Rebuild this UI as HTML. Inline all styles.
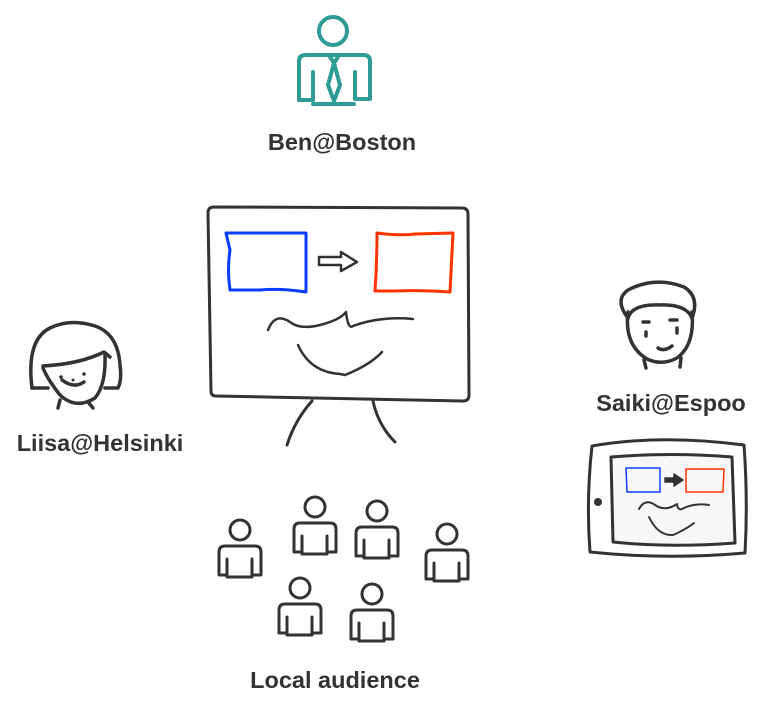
<!DOCTYPE html>
<html><head><meta charset="utf-8"><style>
html,body{margin:0;padding:0;background:#fff;}
svg{display:block;}
text{font-family:"Liberation Sans",Arial,sans-serif;font-weight:bold;font-size:23.5px;fill:#333;}
</style></head><body>
<svg width="767" height="715" viewBox="0 0 767 715" xmlns="http://www.w3.org/2000/svg">
<defs>
<g id="p" fill="none" stroke="#333" stroke-width="3" stroke-linejoin="round" stroke-linecap="round">
<circle cx="0" cy="0" r="10"/>
<path d="M-13,29 V47 H12 V29"/>
<path d="M-13,45 H-21 V22 Q-21,16 -15,16 H15 Q21,16 21,22 V45 H12"/>
</g>
</defs>

<!-- Ben -->
<g fill="none" stroke="#2f9b96" stroke-width="4" stroke-linejoin="round" stroke-linecap="round">
<circle cx="333" cy="31" r="14"/>
<path d="M299,100 V61 Q299,55 306,55 H363 Q370,55 370,61 V99 H355"/>
<path d="M299,100 H313 V72 M355,99 V72"/>
<path d="M313,104 H354"/>
<path d="M330,57 L334,63 L338,57 M334,63 L328,85 L334,101 L340,85 L334,63"/>
</g>
<text x="342" y="150" text-anchor="middle">Ben@Boston</text>

<!-- Whiteboard -->
<g fill="none" stroke-linecap="round" stroke-linejoin="round">
<path d="M214,207 L462,208 Q468,208 468,214 L469,395 Q469,401 463,401 L216,396 Q211,396 211,391 L208,213 Q208,207 214,207 Z" stroke="#333" stroke-width="3"/>
<path d="M226,233 L306,233 L306,292 Q280,288 260,290 L230,290 Q227,270 230,250 Z" stroke="#0a3cff" stroke-width="3"/>
<path d="M377,233 Q400,236 415,234 L453,233 L450,292 Q420,290 395,291 L375,291 Q377,262 377,233 Z" stroke="#ff3300" stroke-width="3"/>
<path d="M319,257 H341 V252 L357,262 L341,271 V265 H319 Z" stroke="#333" stroke-width="2.5"/>
<path d="M268,330 Q275,312 290,322 Q300,330 320,325 Q340,320 346,312 Q348,330 353,326 Q380,316 413,319" stroke="#333" stroke-width="2.5"/>
<path d="M298,345 Q310,372 340,374 L345,375 Q370,365 382,352" stroke="#333" stroke-width="2.5"/>
<path d="M312,401 Q295,420 287,445 M373,401 Q378,425 395,442" stroke="#333" stroke-width="3"/>
</g>

<!-- Liisa -->
<g fill="none" stroke="#333" stroke-width="3.5" stroke-linecap="round" stroke-linejoin="round">
<path d="M32,388 Q26,340 50,328 Q70,318 95,326 Q118,334 120,365 Q122,380 118,388 L105,388"/>
<path d="M32,388 L48,388"/>
<path d="M43,368 Q48,380 60,395 Q76,410 95,398 Q106,385 105,355"/>
<path d="M43,366 Q80,364 104,352 L110,357"/>
<path d="M60,400 L58,408 M88,402 L93,408"/>
<path d="M62,380 Q74,389 84,382"/>
</g>
<circle cx="61" cy="377" r="1.8" fill="#333"/><circle cx="84" cy="374" r="1.8" fill="#333"/><circle cx="73" cy="380" r="1.5" fill="#333"/>
<text x="100" y="451" text-anchor="middle">Liisa@Helsinki</text>

<!-- Saiki -->
<g fill="none" stroke="#333" stroke-width="3.5" stroke-linecap="round" stroke-linejoin="round">
<path d="M628,318 Q614,300 628,290 Q655,276 684,287 Q700,297 692,318"/>
<path d="M628,318 Q632,304 660,305 Q686,304 692,318"/>
<path d="M628,312 Q624,345 647,359 Q662,366 677,358 Q695,345 692,312"/>
<path d="M644,360 L646,368 M681,358 L680,367"/>
<path d="M643,322 H649 M670,320 H677"/>
<path d="M646,332 V336 M677,328 V333"/>
<path d="M658,348 Q664,352 672,346"/>
</g>
<text x="671" y="411" text-anchor="middle">Saiki@Espoo</text>

<!-- Tablet -->
<g fill="none" stroke-linecap="round" stroke-linejoin="round">
<path d="M592,446 Q660,434 744,445 Q748,500 745,553 Q665,560 590,552 Q586,500 592,446 Z" stroke="#333" stroke-width="3"/>
<path d="M611,457 Q670,452 732,457 L735,543 Q670,548 613,542 Z" stroke="#333" stroke-width="3" fill="#f7f7f7"/>
<path d="M626,468 H660 V492 H627 Z" stroke="#0a3cff" stroke-width="1.5"/>
<path d="M686,469 H724 L723,492 H686 Z" stroke="#ff3300" stroke-width="1.5"/>
<path d="M665,478 H674 V474 L683,480 L674,486 V482 H665 Z" fill="#333" stroke="#333" stroke-width="1.5"/>
<path d="M639,509 Q645,498 655,505 Q665,512 677,504 Q678,512 684,508 Q695,503 709,505" stroke="#333" stroke-width="2"/>
<path d="M649,517 Q658,536 673,535 Q685,530 694,523" stroke="#333" stroke-width="2"/>
</g>
<circle cx="598" cy="502" r="4" fill="#333"/>

<!-- Audience -->
<use href="#p" x="240" y="530"/>
<use href="#p" x="315" y="507"/>
<use href="#p" x="377" y="511"/>
<use href="#p" x="447" y="534"/>
<use href="#p" x="300" y="588"/>
<use href="#p" x="372" y="594"/>
<text x="335" y="688" text-anchor="middle">Local audience</text>
</svg>
</body></html>
